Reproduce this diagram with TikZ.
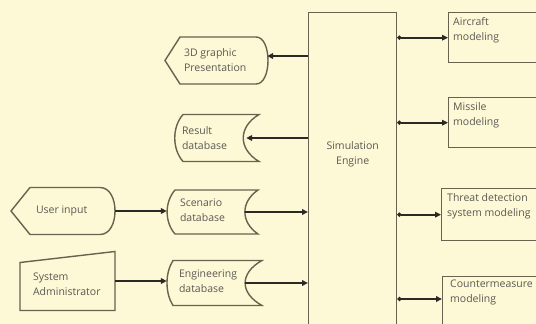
\documentclass[tikz,border=0pt]{standalone}
\usepackage{fontspec}
\setmainfont{Open Sans}
\usetikzlibrary{arrows.meta,calc}

\definecolor{paper}{HTML}{FDF8D6}
\definecolor{edge}{HTML}{68624F}
\definecolor{ink}{HTML}{5A5954}
\definecolor{wire}{HTML}{2A2925}

\tikzset{
  outline/.style={draw=edge, line width=1.4pt, fill=paper, line join=miter},
  frame/.style={draw=none, inner sep=0pt, minimum width=#1},
  boxnode/.style={outline, rectangle, inner sep=0pt, anchor=north west},
  caption/.style={anchor=west, align=left, inner sep=0pt, text=ink},
  topcap/.style={anchor=north west, align=left, inner sep=0pt, text=ink},
  flow/.style={draw=wire, line width=1.8pt, -{Triangle[length=6pt,width=5.6pt]}},
  dotflow/.style={flow, {Circle[length=4pt]}-{Triangle[length=6pt,width=5.6pt]}}
}

\begin{document}
\begin{tikzpicture}[x=1pt, y=-1pt, font=\fontsize{10.5}{15}\selectfont]
  \useasboundingbox (0,0) rectangle (536,324);
  \fill[paper] (0,0) rectangle (536,324);
  \clip (0,0) rectangle (536,324);

  % central engine
  \node[boxnode, minimum width=88pt, minimum height=340pt,
        label={[anchor=center, align=center, text=ink, yshift=-142pt]north:Simulation\\Engine}]
        (eng) at (308,12) {};

  % model blocks on the right
  \node[boxnode, minimum width=110pt, minimum height=50pt,
        label={[topcap, xshift=5pt, yshift=-5pt]north west:Aircraft\\modeling}]
        (air) at (448,12) {};
  \node[boxnode, minimum width=110pt, minimum height=50pt,
        label={[topcap, xshift=5pt, yshift=-5pt]north west:Missile\\modeling}]
        (mis) at (448,97) {};
  \node[boxnode, minimum width=120pt, minimum height=52pt,
        label={[topcap, xshift=6pt, yshift=-5pt]north west:Threat detection\\system modeling}]
        (thr) at (441,188) {};
  \node[boxnode, minimum width=120pt, minimum height=60pt,
        label={[topcap, xshift=8pt, yshift=-4pt]north west:Countermeasure\\modeling}]
        (cm) at (442,276) {};

  % left-hand outline frames (shape drawn around each frame)
  \node[frame=103pt, minimum height=47pt] (gfx) at (216.5,60.5) {};
  \draw[outline, shift={(gfx.center)}]
    (-51.5,0) -- (-36.5,-23.5) -- (39.5,-23.5)
    .. controls (47.5,-23.5) and (51.5,-12) .. (51.5,0)
    .. controls (51.5,12) and (47.5,23.5) .. (39.5,23.5)
    -- (-36.5,23.5) -- cycle;
  \node[caption, xshift=19pt] at (gfx.west) {3D graphic\\Presentation};

  \node[frame=84pt, minimum height=47pt] (res) at (217,138) {};
  \draw[outline, shift={(res.center)}]
    (-34,-23.5) -- (42,-23.5)
    .. controls (21,-11) and (21,11) .. (42,23.5)
    -- (-34,23.5)
    .. controls (-45,11) and (-45,-11) .. (-34,-23.5) -- cycle;
  \node[caption, xshift=7pt] at (res.west) {Result\\database};

  \node[frame=104pt, minimum height=47pt] (user) at (63,211) {};
  \draw[outline, shift={(user.center)}]
    (-52,0) -- (-33,-23.5) -- (37,-23.5)
    .. controls (47,-23.5) and (52,-12) .. (52,0)
    .. controls (52,12) and (47,23.5) .. (37,23.5)
    -- (-33,23.5) -- cycle;
  \node[caption, xshift=25pt] at (user.west) {User input};

  \node[frame=91pt, minimum height=44pt] (scen) at (212.5,212) {};
  \draw[outline, shift={(scen.center)}]
    (-37.5,-22) -- (45.5,-22)
    .. controls (28,-10) and (28,10) .. (45.5,22)
    -- (-37.5,22)
    .. controls (-48,10) and (-48,-10) .. (-37.5,-22) -- cycle;
  \node[caption, xshift=13pt, yshift=1.5pt] at (scen.west) {Scenario\\database};

  \node[frame=95pt, minimum height=59pt] (sys) at (67.5,281) {};
  \draw[outline, shift={(sys.center)}]
    (-47.5,-18.5) -- (47.5,-29.5) -- (47.5,29.5) -- (-47.5,29.5) -- cycle;
  \node[caption, xshift=13pt, yshift=-3pt] at (sys.west) {System\\Administrator};

  \node[frame=95pt, minimum height=45pt] (edb) at (214.5,283) {};
  \draw[outline, shift={(edb.center)}]
    (-41.5,-22.5) -- (47.5,-22.5)
    .. controls (25,-10) and (25,10) .. (47.5,22.5)
    -- (-41.5,22.5)
    .. controls (-49.5,10) and (-49.5,-10) .. (-41.5,-22.5) -- cycle;
  \node[caption, xshift=12pt, yshift=2pt] at (edb.west) {Engineering\\database};

  % connector end points on curved edges
  \coordinate (gfx-in) at ($(gfx.east)+(-1,-4.5)$);
  \coordinate (res-in) at ($(res.east)+(-13,0)$);
  \coordinate (scen-out) at ($(scen.east)+(-13,0)$);
  \coordinate (edb-out) at ($(edb.east)+(-17,0)$);
  \coordinate (cm-in) at ($(cm.north west)+(0,23)$);

  % outputs of the engine
  \draw[flow] (eng.west |- gfx-in) -- (gfx-in);
  \draw[flow] (eng.west |- res-in) -- (res-in);

  % inputs to the engine
  \draw[flow] (user.east) -- (user.east -| scen.west);
  \draw[flow] (scen-out) -- (eng.west |- scen-out);
  \draw[flow] (sys.east) -- (sys.east -| edb.west);
  \draw[flow] (edb-out) -- (eng.west |- edb-out);

  % links to the model blocks
  \draw[dotflow] (eng.east |- air.west) -- (air.west);
  \draw[dotflow] (eng.east |- mis.west) -- (mis.west);
  \draw[dotflow] (eng.east |- thr.west) -- (thr.west);
  \draw[dotflow] (eng.east |- cm-in) -- (cm-in);
\end{tikzpicture}
\end{document}
